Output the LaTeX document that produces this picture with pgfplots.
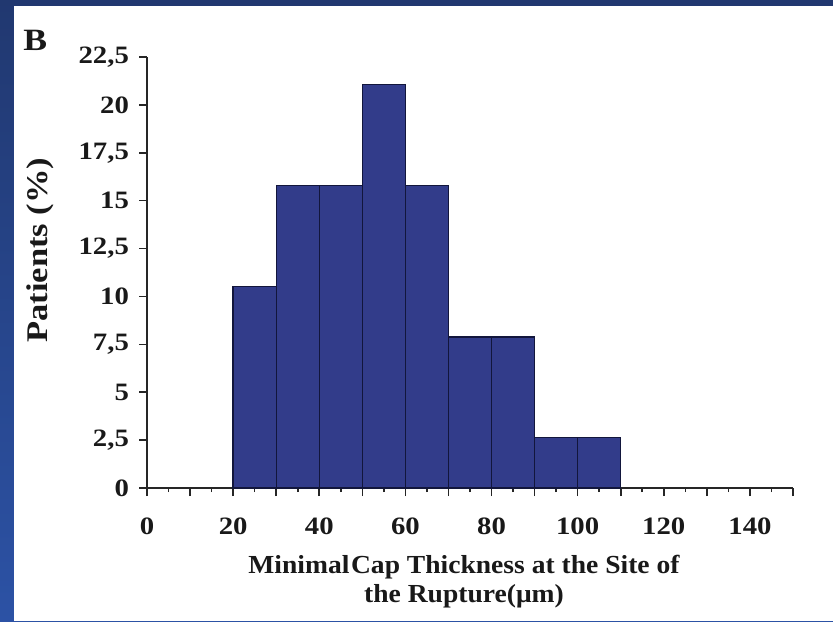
\documentclass[border=0pt]{standalone}
\usepackage{pgfplots}
\pgfplotsset{compat=1.18}
\usepackage{fontspec}
\setmainfont{Liberation Serif}[FakeStretch=1.15]
\newfontfamily\xlabfont{Liberation Serif}[FakeStretch=1.06]
\definecolor{barblue}{RGB}{50,60,138}
\definecolor{baredge}{RGB}{18,22,60}
\definecolor{bgtop}{RGB}{33,56,112}
\definecolor{bgbot}{RGB}{44,82,165}
\definecolor{txt}{RGB}{25,25,25}
\begin{document}
\begin{tikzpicture}
\shade[top color=bgtop,bottom color=bgbot] (0pt,0pt) rectangle (416.5pt,310.5pt);
\useasboundingbox (0pt,0pt) rectangle (416.5pt,310.5pt);
\fill[white] (7pt,0pt) rectangle (416.5pt,307.5pt);
\node[anchor=base west,inner sep=0pt,text=txt,font=\fontsize{15.5}{18}\selectfont\bfseries] at (11.5pt,285pt) {B};
\begin{axis}[
  at={(73.5pt,66.5pt)}, anchor=south west, scale only axis,
  width=323pt, height=215.5pt,
  xmin=0,xmax=150,ymin=0,ymax=22.5,
  axis x line*=bottom, axis y line*=left,
  axis line style={-, line width=1pt, black!85},
  tick style={line width=0.8pt, black!85},
  tick align=outside,
  major tick length=4pt, minor tick length=2pt,
  xtick={0,10,...,150},
  xticklabels={0,,20,,40,,60,,80,,100,,120,,140,},
  minor x tick num=1,
  ytick={0,2.5,...,22.5},
  yticklabels={0,{2,5},5,{7,5},10,{12,5},15,{17,5},20,{22,5}},
  ticklabel style={text=txt,font=\fontsize{12.5}{14}\selectfont\bfseries},
  xticklabel style={yshift=-7.5pt},
  yticklabel style={xshift=-1.5pt},
  ylabel={Patients (\%)},
  ylabel style={at={(axis description cs:-0.1656,0.552)},anchor=center,text=txt,font=\fontsize{15}{18}\selectfont\bfseries},
  xlabel={Minimal\hspace{0.06em}Cap Thickness at the Site of\\the Rupture(μm)},
  xlabel style={at={(axis description cs:0.4907,-0.1555)},anchor=north,inner sep=0pt,align=center,text=txt,font=\xlabfont\fontsize{13}{14.5}\selectfont\bfseries},
]
\addplot[ybar interval, fill=barblue, draw=baredge, line width=0.7pt] coordinates {
  (20,10.53) (30,15.79) (40,15.79) (50,21.05) (60,15.79)
  (70,7.89) (80,7.89) (90,2.63) (100,2.63) (110,0)
};
\end{axis}
\end{tikzpicture}
\end{document}
